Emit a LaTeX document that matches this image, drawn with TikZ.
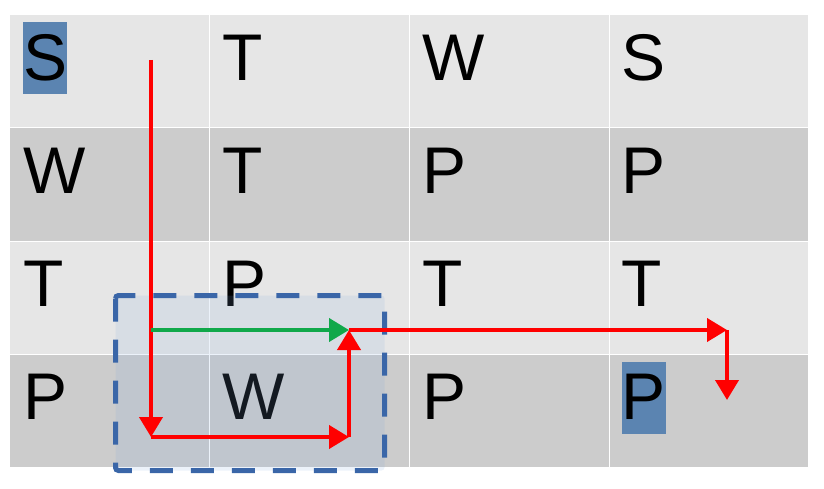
\documentclass[tikz,border=0pt]{standalone}
\usepackage{fontspec}
\setmainfont{Liberation Sans}
\usetikzlibrary{arrows.meta}
\definecolor{rowlight}{HTML}{E6E6E6}
\definecolor{rowdark}{HTML}{CCCCCC}
\definecolor{hlblue}{HTML}{5B84B1}
\definecolor{boxblue}{HTML}{3A66A8}
\definecolor{boxfill}{RGB}{130,170,223}
\definecolor{pathred}{HTML}{FF0000}
\definecolor{pathgreen}{HTML}{10A84A}
\begin{document}
\begin{tikzpicture}[>={Triangle[width=23pt,length=20pt]},x=1pt,y=-1pt,
	letter/.style={anchor=base west,inner sep=0pt,font=\fontsize{66}{66}\selectfont},
	marked/.style={letter,fill=hlblue,text height=58pt,text depth=14pt},
	route/.style={pathred,line width=4pt,->}]
		\useasboundingbox (0,0) rectangle (824,489);
		% table rows
		\foreach \i in {1,3} \fill[rowlight] (10,{15+113*(\i-1)}) rectangle (808,{15+113*\i});
		\foreach \i in {2,4} \fill[rowdark] (10,{15+113*(\i-1)}) rectangle (808,{15+113*\i});
		\foreach \x in {209,409,609} \draw[white,line width=1pt] (\x,15) -- (\x,467);
		\foreach \y in {128,241,354} \draw[white,line width=1pt] (10,\y) -- (808,\y);
		% letters
		\foreach \i/\j/\t/\s in {1/1/S/marked,1/2/T/letter,1/3/W/letter,1/4/S/letter,
			2/1/W/letter,2/2/T/letter,2/3/P/letter,2/4/P/letter,
			3/1/T/letter,3/2/P/letter,3/3/T/letter,3/4/T/letter,
			4/1/P/letter,4/2/W/letter,4/3/P/letter,4/4/P/marked}
			\node[\s] (c\i\j) at ({23+199.5*(\j-1)},{80.5+113*(\i-1)}) {\t};
		% window
		\draw[boxblue,line width=5pt,dash pattern=on 23pt off 18pt,rounded corners=3pt,fill=boxfill,fill opacity=0.15] (115.5,295.5) rectangle (384.5,470.5);
		% path
		\coordinate (start) at (151,60);
		\coordinate (low) at (151,437);
		\coordinate (lowright) at (349,437);
		\coordinate (meet) at (349,330);
		\coordinate (branch) at (151,330);
		\coordinate (far) at (727,330);
		\coordinate (goal) at (727,400);
		\draw[route] (start) -- (low);
		\draw[route] (low) -- (lowright);
		\draw[route] (lowright) -- (meet);
		\draw[route,pathgreen] (branch) -- (meet);
		\draw[route] (meet) -- (far);
		\draw[route] (far) -- (goal);
		\end{tikzpicture}
\end{document}
